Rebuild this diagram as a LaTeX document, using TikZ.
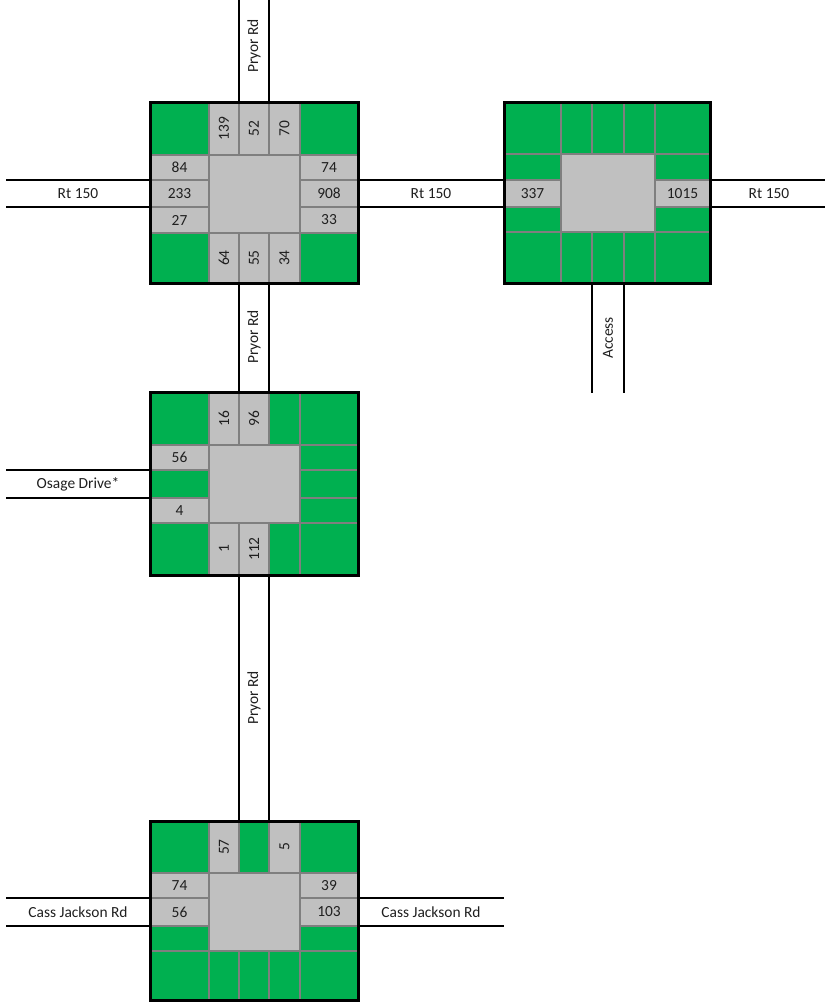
\documentclass[tikz,border=0pt]{standalone}
\usepackage{fontspec}
\setmainfont{Carlito}
\definecolor{grass}{HTML}{00B050}
\definecolor{pave}{HTML}{C0C0C0}
\definecolor{gridc}{HTML}{7F7F7F}
\tikzset{
  cellg/.style={fill=grass,draw=gridc,line width=1.6bp},
  cellp/.style={fill=pave,draw=gridc,line width=1.6bp},
  lbl/.style={inner sep=0pt,font=\fontsize{15.5}{18}\selectfont,text=black!88},
  vert/.style={lbl,rotate=90},
  road/.style={draw=black,line width=2bp},
  frame/.style={draw=black,line width=3bp},
}
\newcommand{\cellbox}[8]{%
  \filldraw[#6] (#2,#3) rectangle (#4,#5);
  \node[#7] (#1) at ({(#2+#4)/2},{(#3+#5)/2}) {#8};
}
\begin{document}
\begin{tikzpicture}[x=1bp,y=-1bp]
\useasboundingbox (0,0) rectangle (825,1002);

% ---------- roads ----------
% Pryor Rd top
\draw[road] (239,0) -- (239,102);
\draw[road] (269,0) -- (269,102);
\node[vert] (pryor1) at (254,46) {Pryor Rd};
% Pryor Rd middle
\draw[road] (239,283) -- (239,392);
\draw[road] (269,283) -- (269,392);
\node[vert] (pryor2) at (254,337) {Pryor Rd};
% Pryor Rd lower
\draw[road] (239,575) -- (239,821);
\draw[road] (269,575) -- (269,821);
\node[vert] (pryor3) at (254,698) {Pryor Rd};
% Rt 150
\draw[road] (6,180) -- (150,180);
\draw[road] (6,207) -- (150,207);
\node[lbl] (rt1) at (78,193.5) {Rt 150};
\draw[road] (358,180) -- (504,180);
\draw[road] (358,207) -- (504,207);
\node[lbl] (rt2) at (431,193.5) {Rt 150};
\draw[road] (710,180) -- (825,180);
\draw[road] (710,207) -- (825,207);
\node[lbl] (rt3) at (769,193.5) {Rt 150};
% Access
\draw[road] (592,283) -- (592,393);
\draw[road] (624,283) -- (624,393);
\node[vert] (access) at (608,338) {Access};
% Osage Drive
\draw[road] (6,470) -- (150,470);
\draw[road] (6,498) -- (150,498);
\node[lbl] (osage) at (78,484) {Osage Drive*};
% Cass Jackson Rd
\draw[road] (6,898) -- (150,898);
\draw[road] (6,926) -- (150,926);
\node[lbl] (cass1) at (78,912) {Cass Jackson Rd};
\draw[road] (358,898) -- (504,898);
\draw[road] (358,926) -- (504,926);
\node[lbl] (cass2) at (431,912) {Cass Jackson Rd};

% ---------- intersection 1: Pryor Rd / Rt 150 ----------
\cellbox{a11}{150}{102}{209}{155}{cellg}{lbl}{}
\cellbox{a12}{209}{102}{239}{155}{cellp}{vert}{139}
\cellbox{a13}{239}{102}{269}{155}{cellp}{vert}{52}
\cellbox{a14}{269}{102}{300}{155}{cellp}{vert}{70}
\cellbox{a15}{300}{102}{358}{155}{cellg}{lbl}{}
\cellbox{a21}{150}{155}{209}{180}{cellp}{lbl}{84}
\cellbox{a31}{150}{180}{209}{207}{cellp}{lbl}{233}
\cellbox{a41}{150}{207}{209}{233}{cellp}{lbl}{27}
\cellbox{a25}{300}{155}{358}{180}{cellp}{lbl}{74}
\cellbox{a35}{300}{180}{358}{207}{cellp}{lbl}{908}
\cellbox{a45}{300}{207}{358}{233}{cellp}{lbl}{33}
\cellbox{ac}{209}{155}{300}{233}{cellp}{lbl}{}
\cellbox{a51}{150}{233}{209}{283}{cellg}{lbl}{}
\cellbox{a52}{209}{233}{239}{283}{cellp}{vert}{64}
\cellbox{a53}{239}{233}{269}{283}{cellp}{vert}{55}
\cellbox{a54}{269}{233}{300}{283}{cellp}{vert}{34}
\cellbox{a55}{300}{233}{358}{283}{cellg}{lbl}{}
\draw[frame] (150,102) rectangle (358,283);

% ---------- intersection 2: Rt 150 / Access ----------
\cellbox{b11}{504}{102}{561}{154}{cellg}{lbl}{}
\cellbox{b12}{561}{102}{592}{154}{cellg}{lbl}{}
\cellbox{b13}{592}{102}{624}{154}{cellg}{lbl}{}
\cellbox{b14}{624}{102}{655}{154}{cellg}{lbl}{}
\cellbox{b15}{655}{102}{710}{154}{cellg}{lbl}{}
\cellbox{b21}{504}{154}{561}{180}{cellg}{lbl}{}
\cellbox{b31}{504}{180}{561}{207}{cellp}{lbl}{337}
\cellbox{b41}{504}{207}{561}{232}{cellg}{lbl}{}
\cellbox{b25}{655}{154}{710}{180}{cellg}{lbl}{}
\cellbox{b35}{655}{180}{710}{207}{cellp}{lbl}{1015}
\cellbox{b45}{655}{207}{710}{232}{cellg}{lbl}{}
\cellbox{bc}{561}{154}{655}{232}{cellp}{lbl}{}
\cellbox{b51}{504}{232}{561}{283}{cellg}{lbl}{}
\cellbox{b52}{561}{232}{592}{283}{cellg}{lbl}{}
\cellbox{b53}{592}{232}{624}{283}{cellg}{lbl}{}
\cellbox{b54}{624}{232}{655}{283}{cellg}{lbl}{}
\cellbox{b55}{655}{232}{710}{283}{cellg}{lbl}{}
\draw[frame] (504,102) rectangle (710,283);

% ---------- intersection 3: Pryor Rd / Osage Drive ----------
\cellbox{c11}{150}{392}{209}{445}{cellg}{lbl}{}
\cellbox{c12}{209}{392}{239}{445}{cellp}{vert}{16}
\cellbox{c13}{239}{392}{269}{445}{cellp}{vert}{96}
\cellbox{c14}{269}{392}{300}{445}{cellg}{lbl}{}
\cellbox{c15}{300}{392}{358}{445}{cellg}{lbl}{}
\cellbox{c21}{150}{445}{209}{470}{cellp}{lbl}{56}
\cellbox{c31}{150}{470}{209}{498}{cellg}{lbl}{}
\cellbox{c41}{150}{498}{209}{523}{cellp}{lbl}{4}
\cellbox{c25}{300}{445}{358}{470}{cellg}{lbl}{}
\cellbox{c35}{300}{470}{358}{498}{cellg}{lbl}{}
\cellbox{c45}{300}{498}{358}{523}{cellg}{lbl}{}
\cellbox{cc}{209}{445}{300}{523}{cellp}{lbl}{}
\cellbox{c51}{150}{523}{209}{575}{cellg}{lbl}{}
\cellbox{c52}{209}{523}{239}{575}{cellp}{vert}{1}
\cellbox{c53}{239}{523}{269}{575}{cellp}{vert}{112}
\cellbox{c54}{269}{523}{300}{575}{cellg}{lbl}{}
\cellbox{c55}{300}{523}{358}{575}{cellg}{lbl}{}
\draw[frame] (150,392) rectangle (358,575);

% ---------- intersection 4: Pryor Rd / Cass Jackson Rd ----------
\cellbox{d11}{150}{821}{209}{873}{cellg}{lbl}{}
\cellbox{d12}{209}{821}{239}{873}{cellp}{vert}{57}
\cellbox{d13}{239}{821}{269}{873}{cellg}{lbl}{}
\cellbox{d14}{269}{821}{300}{873}{cellp}{vert}{5}
\cellbox{d15}{300}{821}{358}{873}{cellg}{lbl}{}
\cellbox{d21}{150}{873}{209}{898}{cellp}{lbl}{74}
\cellbox{d31}{150}{898}{209}{926}{cellp}{lbl}{56}
\cellbox{d41}{150}{926}{209}{951}{cellg}{lbl}{}
\cellbox{d25}{300}{873}{358}{898}{cellp}{lbl}{39}
\cellbox{d35}{300}{898}{358}{926}{cellp}{lbl}{103}
\cellbox{d45}{300}{926}{358}{951}{cellg}{lbl}{}
\cellbox{dc}{209}{873}{300}{951}{cellp}{lbl}{}
\cellbox{d51}{150}{951}{209}{1000}{cellg}{lbl}{}
\cellbox{d52}{209}{951}{239}{1000}{cellg}{lbl}{}
\cellbox{d53}{239}{951}{269}{1000}{cellg}{lbl}{}
\cellbox{d54}{269}{951}{300}{1000}{cellg}{lbl}{}
\cellbox{d55}{300}{951}{358}{1000}{cellg}{lbl}{}
\draw[frame] (150,821) rectangle (358,1000);
\end{tikzpicture}
\end{document}
